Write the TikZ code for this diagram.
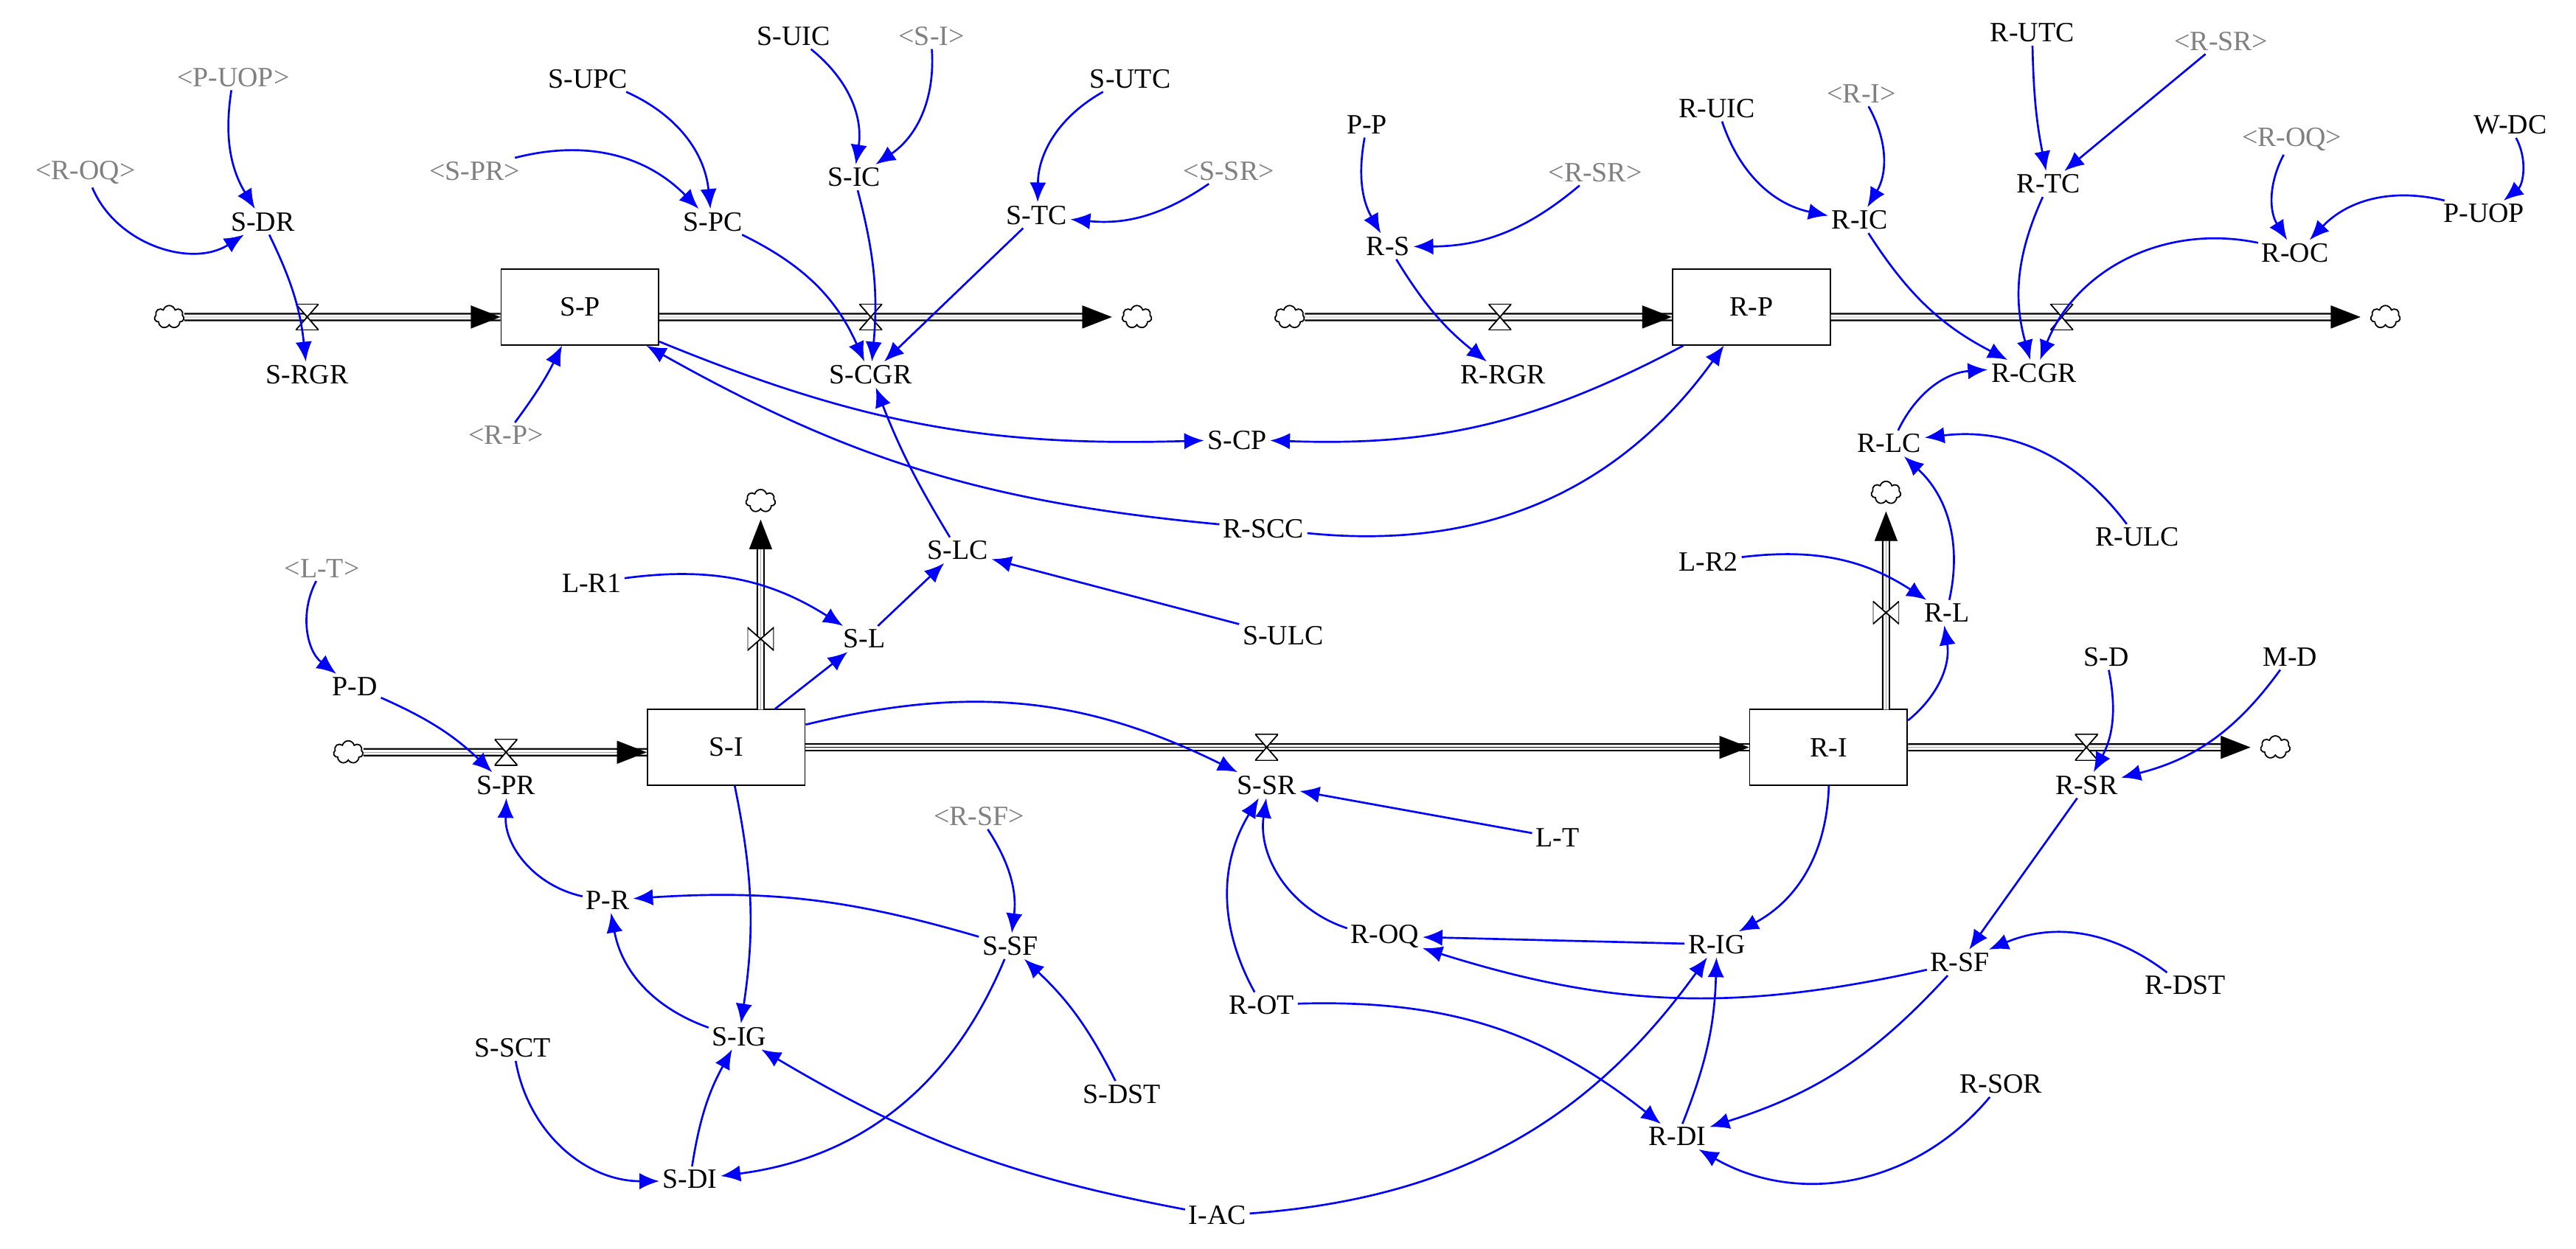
\documentclass[tikz,border=0pt]{standalone}
\usepackage{fontspec}
\setmainfont{Liberation Serif}
\usetikzlibrary{arrows.meta,shapes.symbols,calc}
\begin{document}
\begin{tikzpicture}[x=1pt,y=1pt,
  every node/.style={font=\fontsize{17}{20}\selectfont,inner sep=2pt},
  g/.style={text=gray},
  box/.style={draw,thick,minimum width=96pt,minimum height=46pt,fill=white},
  cl/.style={cloud,cloud puffs=7,draw,thick,minimum width=18pt,minimum height=14pt,inner sep=0pt},
  pipe/.style={draw,double=white,double distance=3pt,line width=1pt},
  tipa/.style={-{Triangle[length=18pt,width=14pt]},line width=0.1pt},
  hval/.style={minimum width=14pt,minimum height=16pt,inner sep=0pt,path picture={
     \draw[thick,fill=white] (path picture bounding box.north west) -- (path picture bounding box.south east) -- (path picture bounding box.south west) -- (path picture bounding box.north east) -- cycle;}},
  vval/.style={minimum width=16pt,minimum height=14pt,inner sep=0pt,path picture={
     \draw[thick,fill=white] (path picture bounding box.north west) -- (path picture bounding box.south east) -- (path picture bounding box.north east) -- (path picture bounding box.south west) -- cycle;}},
  a/.style={draw=blue,line width=1.2pt,-{Latex[length=12pt,width=10pt]}}]
\useasboundingbox (0,0) rectangle (1568,-760);
% stocks and clouds
\node[box] (SP) at (353,-187) {S-P};
\node[box] (RP) at (1066,-187) {R-P};
\node[box] (SI) at (442,-455) {S-I};
\node[box] (RI) at (1113,-455) {R-I};
\node[cl] (c1) at (103,-193) {};
\node[cl] (c2) at (692,-193) {};
\node[cl] (c3) at (785,-193) {};
\node[cl] (c4) at (1452,-193) {};
\node[cl] (c5) at (212,-458) {};
\node[cl] (c6) at (1385,-455) {};
\node[cl] (c7) at (463,-305) {};
\node[cl] (c8) at (1148,-300) {};
\coordinate (SPr) at (SP.east|-0,-193);
\coordinate (SPl) at (SP.west|-0,-193);
\coordinate (RPr) at (RP.east|-0,-193);
\coordinate (RPl) at (RP.west|-0,-193);
\coordinate (SIl) at (SI.west|-0,-458);
\coordinate (SIr) at (SI.east|-0,-455);
\coordinate (RIl) at (RI.west|-0,-455);
\coordinate (RIr) at (RI.east|-0,-455);
\coordinate (SIt) at (463,-432);
\coordinate (RIt) at (1148,-432);
\path[pipe] (c1) -- (SPl);  \draw[tipa] (c1) -- (SPl);
\path[pipe,shorten >=14pt] (SPr) -- (c2);  \draw[tipa,shorten >=6pt] (SPr) -- (c2);
\path[pipe] (c3) -- (RPl);  \draw[tipa] (c3) -- (RPl);
\path[pipe,shorten >=14pt] (RPr) -- (c4);  \draw[tipa,shorten >=6pt] (RPr) -- (c4);
\path[pipe] (c5) -- (SIl);  \draw[tipa] (c5) -- (SIl);
\path[pipe] (SIr) -- (RIl); \draw[tipa] (SIr) -- (RIl);
\path[pipe,shorten >=14pt] (RIr) -- (c6);  \draw[tipa,shorten >=6pt] (RIr) -- (c6);
\path[pipe,shorten >=14pt] (SIt) -- (c7);  \draw[tipa,shorten >=6pt] (SIt) -- (c7);
\path[pipe,shorten >=14pt] (RIt) -- (c8);  \draw[tipa,shorten >=6pt] (RIt) -- (c8);
\node[hval] (v1) at (187,-193) {};
\node[hval] (v2) at (530,-193) {};
\node[hval] (v3) at (913,-193) {};
\node[hval] (v4) at (1255,-193) {};
\node[hval] (v5) at (308,-458) {};
\node[hval] (v6) at (771,-455) {};
\node[hval] (v7) at (1270,-455) {};
\node[vval] (v8) at (463,-389) {};
\node[vval] (v9) at (1148,-373) {};
% variables
\node (SRGR) at (187,-228) {S-RGR};
\node (SCGR) at (530,-228) {S-CGR};
\node (SDR) at (160,-135) {S-DR};
\node[g] (gPUOP) at (142,-47) {<P-UOP>};
\node[g] (gROQ1) at (52,-105) {<R-OQ>};
\node (SUPC) at (358,-48) {S-UPC};
\node (SPC) at (434,-135) {S-PC};
\node[g] (gSPR) at (289,-104) {<S-PR>};
\node (SUIC) at (483,-22) {S-UIC};
\node[g] (gSI) at (567,-22) {<S-I>};
\node (SIC) at (520,-108) {S-IC};
\node (SUTC) at (688,-48) {S-UTC};
\node (STC) at (631,-131) {S-TC};
\node[g] (gSSR) at (748,-104) {<S-SR>};
\node[g] (gRP) at (308,-265) {<R-P>};
\node (SCP) at (753,-268) {S-CP};
\node (RSCC) at (769,-322) {R-SCC};
\node (SLC) at (583,-335) {S-LC};
\node (SULC) at (781,-387) {S-ULC};
\node (SL) at (526,-389) {S-L};
\node (LR1) at (360,-355) {L-R1};
\node[g] (gLT) at (196,-346) {<L-T>};
\node (PD) at (216,-418) {P-D};
\node (SPR) at (308,-478) {S-PR};
\node (SSR) at (771,-478) {S-SR};
\node (RSR) at (1270,-478) {R-SR};
\node (SD) at (1282,-400) {S-D};
\node (MD) at (1394,-400) {M-D};
\node (LT) at (948,-510) {L-T};
\node (RL) at (1185,-373) {R-L};
\node (LR2) at (1040,-342) {L-R2};
\node (RLC) at (1150,-270) {R-LC};
\node (RULC) at (1301,-327) {R-ULC};
\node (RCGR) at (1238,-227) {R-CGR};
\node (RRGR) at (915,-228) {R-RGR};
\node (RS) at (845,-150) {R-S};
\node (PP) at (832,-76) {P-P};
\node[g] (gRSR1) at (971,-105) {<R-SR>};
\node (RUIC) at (1045,-66) {R-UIC};
\node[g] (gRI) at (1133,-57) {<R-I>};
\node (RIC) at (1132,-134) {R-IC};
\node (RUTC) at (1237,-20) {R-UTC};
\node[g] (gRSR2) at (1352,-25) {<R-SR>};
\node (RTC) at (1247,-112) {R-TC};
\node[g] (gROQ2) at (1395,-85) {<R-OQ>};
\node (WDC) at (1528,-76) {W-DC};
\node (PUOP) at (1512,-130) {P-UOP};
\node (ROC) at (1397,-154) {R-OC};
\node (PR) at (370,-548) {P-R};
\node (SSF) at (615,-576) {S-SF};
\node[g] (gRSF) at (596,-497) {<R-SF>};
\node (SDST) at (683,-666) {S-DST};
\node (SIG) at (450,-631) {S-IG};
\node (SSCT) at (312,-638) {S-SCT};
\node (SDI) at (420,-718) {S-DI};
\node (IAC) at (741,-740) {I-AC};
\node (ROQ) at (843,-570) {R-OQ};
\node (RIG) at (1045,-575) {R-IG};
\node (ROT) at (768,-612) {R-OT};
\node (RSF) at (1193,-586) {R-SF};
\node (RDST) at (1330,-600) {R-DST};
\node (RDI) at (1021,-692) {R-DI};
\node (RSOR) at (1218,-660) {R-SOR};
% links
\draw[a] (gPUOP) to[bend right=20] (SDR);
\draw[a] (gROQ1) to[bend right=50] (SDR);
\draw[a] (SDR) to[bend left=10] (SRGR);
\draw[a] (SUPC) to[bend left=30] (SPC);
\draw[a] (gSPR) to[bend left=30] (SPC);
\draw[a] (SUIC) to[bend left=30] (SIC);
\draw[a] (gSI) to[bend left=30] (SIC);
\draw[a] (SPC) to[bend left=20] (SCGR);
\draw[a] (SIC) to[bend left=10] (SCGR);
\draw[a] (STC) -- (SCGR);
\draw[a] (SUTC) to[bend right=30] (STC);
\draw[a] (gSSR) to[bend left=20] (STC);
\draw[a] (gRP) to[bend right=5] (SP);
\draw[a] (SP) to[bend right=12] (SCP);
\draw[a] (RP) to[bend left=15] (SCP);
\draw[a] (RSCC) to[bend left=12] (SP);
\draw[a] (RSCC) to[bend right=30] (RP);
\draw[a] (SLC) to[bend left=5] (SCGR);
\draw[a] (SULC) -- (SLC);
\draw[a] (SL) -- (SLC);
\draw[a] (SI) -- (SL);
\draw[a] (LR1) to[bend left=20] (SL);
\draw[a] (gLT) to[bend right=40] (PD);
\draw[a] (PD) to[bend left=10] (SPR);
\draw[a] (PR) to[bend left=40] (SPR);
\draw[a] (SI) to[bend left=20] (SSR);
\draw[a] (SI) to[bend left=10] (SIG);
\draw[a] (SSF) to[bend right=10] (PR);
\draw[a] (SIG) to[bend left=30] (PR);
\draw[a] (gRSF) to[bend left=20] (SSF);
\draw[a] (SDST) to[bend right=10] (SSF);
\draw[a] (SSF) to[bend left=30] (SDI);
\draw[a] (SSCT) to[bend right=40] (SDI);
\draw[a] (SDI) to[bend left=10] (SIG);
\draw[a] (IAC) to[bend left=10] (SIG);
\draw[a] (IAC) to[bend right=25] (RIG);
\draw[a] (LT) -- (SSR);
\draw[a] (ROQ) to[bend left=40] (SSR);
\draw[a] (ROT) to[bend left=30] (SSR);
\draw[a] (ROT) to[bend left=20] (RDI);
\draw[a] (RIG) -- (ROQ);
\draw[a] (RSF) to[bend left=15] (ROQ);
\draw[a] (RI) to[bend left=30] (RIG);
\draw[a] (RDI) to[bend right=10] (RIG);
\draw[a] (RSF) to[bend left=15] (RDI);
\draw[a] (RSOR) to[bend left=40] (RDI);
\draw[a] (RDST) to[bend right=30] (RSF);
\draw[a] (RSR) -- (RSF);
\draw[a] (SD) to[bend left=20] (RSR);
\draw[a] (MD) to[bend left=20] (RSR);
\draw[a] (RI) to[bend right=30] (RL);
\draw[a] (LR2) to[bend left=20] (RL);
\draw[a] (RL) to[bend right=30] (RLC);
\draw[a] (RULC) to[bend right=30] (RLC);
\draw[a] (RLC) to[bend left=30] (RCGR);
\draw[a] (RIC) to[bend right=15] (RCGR);
\draw[a] (RTC) to[bend right=20] (RCGR);
\draw[a] (ROC) to[bend right=40] (RCGR);
\draw[a] (RUIC) to[bend right=30] (RIC);
\draw[a] (gRI) to[bend left=30] (RIC);
\draw[a] (RUTC) to[bend right=5] (RTC);
\draw[a] (gRSR2) -- (RTC);
\draw[a] (gROQ2) to[bend right=30] (ROC);
\draw[a] (WDC) to[bend left=40] (PUOP);
\draw[a] (PUOP) to[bend right=30] (ROC);
\draw[a] (PP) to[bend right=20] (RS);
\draw[a] (gRSR1) to[bend left=20] (RS);
\draw[a] (RS) to[bend right=10] (RRGR);
\end{tikzpicture}
\end{document}
